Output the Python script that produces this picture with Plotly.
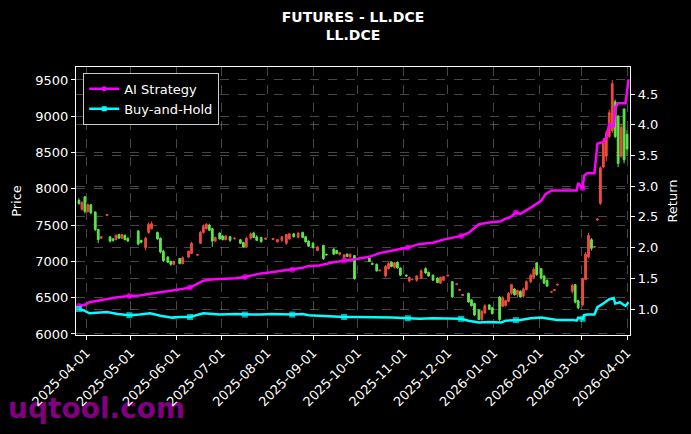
import plotly.graph_objects as go

# ---------------- data ----------------
dates = [
    "2025-03-27", "2025-03-29", "2025-03-31", "2025-04-02", "2025-04-04", "2025-04-07", "2025-04-09",
    "2025-04-11", "2025-04-15", "2025-04-17", "2025-04-19", "2025-04-21", "2025-04-23", "2025-04-25",
    "2025-04-27", "2025-04-29", "2025-05-06", "2025-05-08", "2025-05-11", "2025-05-13", "2025-05-15",
    "2025-05-19", "2025-05-21", "2025-05-23", "2025-05-26", "2025-05-28", "2025-05-30", "2025-06-03",
    "2025-06-05", "2025-06-09", "2025-06-11", "2025-06-15", "2025-06-17", "2025-06-19", "2025-06-21",
    "2025-06-23", "2025-06-25", "2025-06-27", "2025-06-30", "2025-07-02", "2025-07-04", "2025-07-07",
    "2025-07-10", "2025-07-14", "2025-07-16", "2025-07-18", "2025-07-21", "2025-07-23", "2025-07-25",
    "2025-07-28", "2025-07-31", "2025-08-05", "2025-08-08", "2025-08-11", "2025-08-14", "2025-08-16",
    "2025-08-19", "2025-08-22", "2025-08-25", "2025-08-27", "2025-08-29", "2025-09-01", "2025-09-04",
    "2025-09-08", "2025-09-10", "2025-09-15", "2025-09-17", "2025-09-19", "2025-09-22", "2025-09-24",
    "2025-09-26", "2025-09-29", "2025-10-09", "2025-10-11", "2025-10-14", "2025-10-16", "2025-10-20",
    "2025-10-22", "2025-10-24", "2025-10-26", "2025-10-28", "2025-10-30", "2025-11-03", "2025-11-05",
    "2025-11-07", "2025-11-10", "2025-11-13", "2025-11-16", "2025-11-18", "2025-11-21", "2025-11-24",
    "2025-11-26", "2025-11-28", "2025-12-01", "2025-12-04", "2025-12-07", "2025-12-09", "2025-12-11",
    "2025-12-15", "2025-12-17", "2025-12-19", "2025-12-22", "2025-12-24", "2025-12-26", "2025-12-29",
    "2025-12-31", "2026-01-05", "2026-01-07", "2026-01-09", "2026-01-11", "2026-01-13", "2026-01-15",
    "2026-01-17", "2026-01-19", "2026-01-21", "2026-01-23", "2026-01-26", "2026-01-28", "2026-01-30",
    "2026-02-02", "2026-02-04", "2026-02-06", "2026-02-09", "2026-02-11", "2026-02-13", "2026-02-23",
    "2026-02-25", "2026-02-27", "2026-03-02", "2026-03-04", "2026-03-06", "2026-03-08", "2026-03-10",
    "2026-03-12", "2026-03-14", "2026-03-16", "2026-03-18", "2026-03-20", "2026-03-22", "2026-03-24",
    "2026-03-26", "2026-03-28", "2026-03-30", "2026-04-01",
]
opens = [
    7840, 7720, 7890, 7690, 7780, 7680, 7440,
    7320, 7630, 7340, 7310, 7300, 7370, 7320,
    7360, 7320, 7420, 7290, 7190, 7400, 7450,
    7400, 7320, 7140, 7060, 7000, 6960, 7040,
    6970, 7060, 7110, 7085, 7250, 7400, 7450,
    7500, 7450, 7280, 7390, 7350, 7300, 7340,
    7310, 7300, 7260, 7200, 7320, 7390, 7340,
    7330, 7305, 7300, 7270, 7290, 7250, 7310,
    7380, 7330, 7400, 7340, 7280, 7250, 7150,
    7220, 7100, 7170, 7150, 7100, 7050, 7100,
    7060, 7080, 7050, 6975, 6960, 6870, 6800,
    6900, 6990, 6920, 6990, 6910, 6810, 6730,
    6750, 6740, 6770, 6900, 6850, 6810, 6770,
    6700, 6740, 6800, 6720, 6680, 6600, 6530,
    6560, 6470, 6420, 6330, 6200, 6290, 6400,
    6360, 6510, 6380, 6390, 6450, 6560, 6620,
    6540, 6590, 6520, 6610, 6720, 6780, 6980,
    6900, 6800, 6740, 6575, 6600, 6675, 6590,
    6680, 6460, 6400, 6750, 7060, 7300, 7195,
    7570, 7800, 8300, 8450, 8720, 8800, 9200,
    9000, 8450, 9100, 8750,
]
highs = [
    7870, 7830, 7900, 7800, 7790, 7690, 7450,
    7345, 7645, 7345, 7320, 7370, 7380, 7380,
    7370, 7330, 7430, 7300, 7340, 7540, 7550,
    7410, 7330, 7160, 7070, 7010, 7010, 7050,
    7070, 7150, 7270, 7095, 7420, 7510, 7530,
    7520, 7460, 7340, 7400, 7360, 7360, 7350,
    7325, 7310, 7270, 7340, 7400, 7410, 7360,
    7340, 7325, 7320, 7310, 7350, 7380, 7390,
    7390, 7400, 7410, 7350, 7290, 7270, 7210,
    7230, 7105, 7180, 7160, 7130, 7100, 7110,
    7110, 7090, 7060, 6980, 6970, 6885, 6950,
    6990, 7000, 6990, 7000, 6920, 6820, 6790,
    6760, 6810, 6890, 6920, 6860, 6820, 6780,
    6790, 6800, 6815, 6730, 6695, 6615, 6545,
    6570, 6480, 6430, 6340, 6330, 6410, 6410,
    6370, 6520, 6520, 6470, 6580, 6690, 6630,
    6610, 6600, 6640, 6740, 6830, 6920, 6990,
    6910, 6810, 6750, 6590, 6615, 6690, 6690,
    6690, 6470, 6780, 7130, 7390, 7320, 7210,
    7590, 8310, 8700, 8800, 9090, 9500, 9230,
    9020, 8900, 9110, 8810,
]
lows = [
    7780, 7700, 7660, 7670, 7650, 7420, 7250,
    7315, 7625, 7260, 7270, 7290, 7310, 7310,
    7290, 7270, 7220, 7250, 7150, 7380, 7440,
    7300, 7110, 6990, 6980, 6940, 6950, 6960,
    6960, 7050, 7100, 7085, 7240, 7380, 7440,
    7420, 7200, 7270, 7300, 7290, 7290, 7270,
    7305, 7240, 7190, 7190, 7300, 7320, 7280,
    7260, 7300, 7295, 7260, 7270, 7230, 7300,
    7330, 7320, 7320, 7260, 7200, 7180, 7140,
    7020, 7085, 7090, 7100, 7080, 7040, 7060,
    7050, 6750, 6990, 6955, 6860, 6865, 6780,
    6890, 6920, 6900, 6900, 6800, 6790, 6710,
    6740, 6720, 6760, 6830, 6790, 6730, 6700,
    6690, 6730, 6795, 6500, 6675, 6595, 6525,
    6430, 6380, 6250, 6190, 6180, 6270, 6330,
    6270, 6180, 6370, 6380, 6440, 6540, 6530,
    6500, 6500, 6500, 6600, 6700, 6760, 6800,
    6750, 6690, 6650, 6570, 6595, 6670, 6560,
    6420, 6340, 6380, 6740, 7040, 7150, 7190,
    7565, 7780, 8280, 8380, 8700, 8770, 8700,
    8300, 8430, 8350, 8450,
]
closes = [
    7800, 7810, 7690, 7780, 7670, 7440, 7300,
    7340, 7645, 7280, 7290, 7360, 7320, 7370,
    7300, 7280, 7240, 7265, 7320, 7510, 7520,
    7310, 7130, 7010, 6990, 6960, 7000, 6970,
    7050, 7140, 7250, 7095, 7400, 7480, 7510,
    7430, 7280, 7330, 7310, 7300, 7350, 7290,
    7320, 7250, 7200, 7320, 7380, 7330, 7290,
    7270, 7320, 7315, 7300, 7340, 7370, 7380,
    7340, 7390, 7330, 7270, 7210, 7190, 7200,
    7040, 7090, 7100, 7110, 7120, 7090, 7070,
    7100, 6760, 7000, 6960, 6870, 6880, 6930,
    6970, 6930, 6980, 6910, 6810, 6800, 6780,
    6755, 6800, 6870, 6840, 6800, 6740, 6710,
    6780, 6790, 6810, 6510, 6690, 6612, 6542,
    6440, 6390, 6260, 6200, 6310, 6390, 6340,
    6280, 6200, 6500, 6460, 6560, 6680, 6540,
    6600, 6510, 6620, 6720, 6810, 6890, 6820,
    6770, 6700, 6660, 6585, 6610, 6685, 6670,
    6440, 6360, 6760, 7100, 7360, 7180, 7205,
    7585, 8290, 8650, 8770, 9050, 9450, 8720,
    8350, 8850, 8400, 8550,
]

line_dates = [
    "2025-03-27", "2025-03-31", "2025-04-03", "2025-04-10", "2025-04-15", "2025-04-22", "2025-04-30",
    "2025-05-07", "2025-05-14", "2025-05-21", "2025-05-29", "2025-06-03", "2025-06-10", "2025-06-19",
    "2025-06-24", "2025-06-30", "2025-07-11", "2025-07-17", "2025-07-21", "2025-07-28", "2025-08-04",
    "2025-08-18", "2025-08-25", "2025-08-29", "2025-09-05", "2025-09-15", "2025-09-22", "2025-09-29",
    "2025-10-09", "2025-10-16", "2025-10-24", "2025-11-04", "2025-11-12", "2025-11-21", "2025-11-28",
    "2025-12-04", "2025-12-10", "2025-12-15", "2025-12-22", "2025-12-29", "2026-01-06", "2026-01-09",
    "2026-01-12", "2026-01-16", "2026-01-19", "2026-01-26", "2026-02-02", "2026-02-05", "2026-02-09",
    "2026-02-13", "2026-02-24", "2026-02-26", "2026-02-27", "2026-03-02", "2026-03-03", "2026-03-05",
    "2026-03-10", "2026-03-12", "2026-03-16", "2026-03-18", "2026-03-20", "2026-03-23", "2026-03-24",
    "2026-03-26", "2026-03-27", "2026-03-31", "2026-04-02",
]
ai_strategy = [
    1.05, 1.07, 1.11, 1.14, 1.16, 1.19, 1.21,
    1.22, 1.25, 1.27, 1.30, 1.32, 1.35, 1.46,
    1.48, 1.49, 1.50, 1.52, 1.54, 1.58, 1.60,
    1.64, 1.67, 1.70, 1.71, 1.76, 1.79, 1.81,
    1.85, 1.91, 1.95, 2.00, 2.06, 2.08, 2.13,
    2.16, 2.19, 2.24, 2.38, 2.41, 2.43, 2.47,
    2.49, 2.57, 2.55, 2.65, 2.76, 2.87, 2.93,
    2.93, 2.93, 2.93, 3.05, 2.97, 3.17, 3.21,
    3.21, 3.69, 3.72, 3.80, 4.01, 3.96, 4.28,
    4.35, 4.35, 4.35, 4.74,
]
buy_and_hold = [
    1.00, 0.97, 0.93, 0.94, 0.95, 0.92, 0.90,
    0.91, 0.93, 0.89, 0.86, 0.87, 0.87, 0.93,
    0.92, 0.91, 0.92, 0.91, 0.91, 0.91, 0.92,
    0.91, 0.92, 0.90, 0.89, 0.88, 0.87, 0.87,
    0.87, 0.86, 0.86, 0.85, 0.84, 0.85, 0.85,
    0.84, 0.84, 0.81, 0.78, 0.79, 0.78, 0.81,
    0.81, 0.82, 0.82, 0.85, 0.86, 0.85, 0.84,
    0.82, 0.82, 0.81, 0.86, 0.84, 0.90, 0.91,
    0.91, 1.03, 1.09, 1.13, 1.16, 1.18, 1.09,
    1.10, 1.11, 1.05, 1.11,
]
marker_dates = [
    "2025-03-27", "2025-04-30", "2025-06-10", "2025-07-17", "2025-08-18", "2025-09-22",
    "2025-11-04", "2025-12-10", "2026-01-16", "2026-03-02",
]
month_ticks = [
    "2025-04-01", "2025-05-01", "2025-06-01", "2025-07-01", "2025-08-01", "2025-09-01", "2025-10-01",
    "2025-11-01", "2025-12-01", "2026-01-01", "2026-02-01", "2026-03-01", "2026-04-01",
]

# ---------------- styling ----------------
RED = "#ef4a3f"
GREEN = "#5de64a"
MAGENTA = "#ff00ff"
CYAN = "#00ffff"
FONT = "DejaVu Sans"
GRID = "rgba(200,200,200,0.35)"
msizes = [6 if d in marker_dates else 0 for d in line_dates]

fig = go.Figure()
fig.add_trace(go.Candlestick(
    x=dates, open=opens, high=highs, low=lows, close=closes,
    increasing=dict(line=dict(color=RED, width=1), fillcolor=RED),
    decreasing=dict(line=dict(color=GREEN, width=1), fillcolor=GREEN),
    whiskerwidth=0, showlegend=False, yaxis="y", hoverinfo="skip",
))
fig.add_trace(go.Scatter(
    x=line_dates, y=ai_strategy, name="AI Strategy", mode="lines+markers",
    line=dict(color=MAGENTA, width=2.5),
    marker=dict(symbol="circle", size=msizes, color=MAGENTA, line=dict(width=0)),
    yaxis="y2", showlegend=False, legendgroup="ai",
))
fig.add_trace(go.Scatter(
    x=line_dates, y=buy_and_hold, name="Buy-and-Hold", mode="lines+markers",
    line=dict(color=CYAN, width=2.5),
    marker=dict(symbol="square", size=msizes, color=CYAN, line=dict(width=0)),
    yaxis="y2", showlegend=False, legendgroup="bh",
))
# legend entries (small markers, like the reference legend)
fig.add_trace(go.Scatter(
    x=[None], y=[None], name="AI Strategy", mode="lines+markers",
    line=dict(color=MAGENTA, width=2.5),
    marker=dict(symbol="circle", size=5, color=MAGENTA), yaxis="y2", legendgroup="ai",
))
fig.add_trace(go.Scatter(
    x=[None], y=[None], name="Buy-and-Hold", mode="lines+markers",
    line=dict(color=CYAN, width=2.5),
    marker=dict(symbol="square", size=5, color=CYAN), yaxis="y2", legendgroup="bh",
))

axis_common = dict(
    showline=True, linecolor="white", linewidth=1.2,
    ticks="outside", ticklen=4, tickcolor="white", tickwidth=1,
    tickfont=dict(family=FONT, size=13, color="white"),
    showgrid=True, gridcolor=GRID, griddash="dash", gridwidth=0.6,
    zeroline=False, automargin=False,
)

fig.update_layout(
    width=691, height=434,
    paper_bgcolor="black", plot_bgcolor="black",
    margin=dict(l=76, r=61, t=67, b=99),
    font=dict(family=FONT, color="white", size=13),
    title=dict(
        text="<b>FUTURES - LL.DCE<br>LL.DCE</b>",
        font=dict(family=FONT, size=14, color="white"),
        x=0.5, xref="paper", xanchor="center",
        y=1 - 22 / 434, yref="container", yanchor="top",
    ),
    boxgap=0.15,
    xaxis=dict(
        type="date", range=["2025-03-25", "2026-04-03"],
        tickvals=month_ticks, tickformat="%Y-%m-%d", tickangle=-45,
        mirror=True, rangeslider=dict(visible=False),
        **axis_common,
    ),
    yaxis=dict(
        range=[5986, 9679], tickvals=[6000, 6500, 7000, 7500, 8000, 8500, 9000, 9500],
        mirror=True,
        title=dict(text="Price", font=dict(family=FONT, size=13, color="white"), standoff=10),
        **axis_common,
    ),
    yaxis2=dict(
        overlaying="y", side="right", range=[0.577, 4.94],
        tickvals=[1.0, 1.5, 2.0, 2.5, 3.0, 3.5, 4.0, 4.5], tickformat=".1f",
        title=dict(text="Return", font=dict(family=FONT, size=13, color="white"), standoff=10),
        **axis_common,
    ),
    legend=dict(
        x=0.013, y=0.978, xanchor="left", yanchor="top",
        bgcolor="black", bordercolor="#cccccc", borderwidth=1,
        font=dict(family=FONT, size=13, color="white"),
        tracegroupgap=0,
    ),
    showlegend=True,
)

fig.add_shape(
    type="rect", xref="paper", yref="paper",
    x0=-0.128, x1=0.4, y0=-0.295, y1=-0.235,
    line=dict(width=0), fillcolor="rgba(0,0,0,0)", layer="below",
    label=dict(text="uqtool.com", textposition="middle left", padding=0,
               font=dict(family=FONT, size=28, color="#800080", weight="bold")),
)

fig.write_html("out.html")
